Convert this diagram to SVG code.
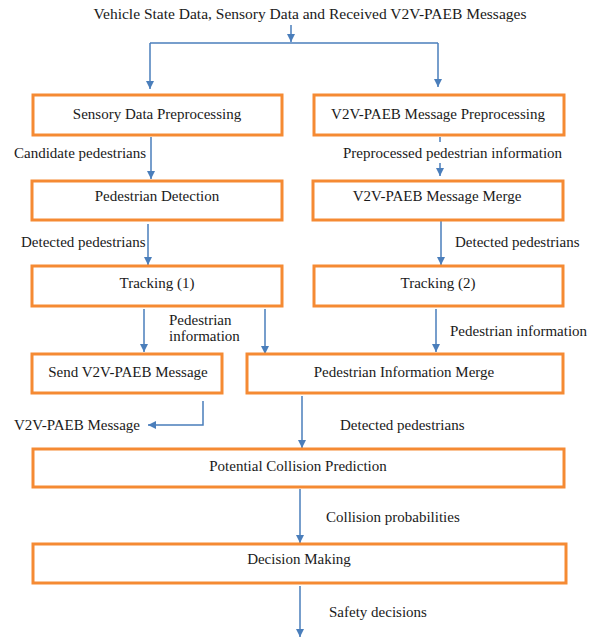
<svg xmlns="http://www.w3.org/2000/svg" width="596" height="642" viewBox="0 0 596 642">
<defs>
<marker id="ah" viewBox="0 0 10 10" refX="10" refY="5" markerWidth="8" markerHeight="8" markerUnits="userSpaceOnUse" orient="auto">
<path d="M0,0 L10,5 L0,10 z" fill="#4A7EBB"/>
</marker>
<style>
.box{fill:#fff;stroke:#F58A33;stroke-width:3}
.t{font-family:'Liberation Serif','Times New Roman','DejaVu Serif',serif;font-size:15px;fill:#1a1a1a}
.c{text-anchor:middle}
.ln{fill:none;stroke:#4A7EBB;stroke-width:1.5}
.ar{marker-end:url(#ah)}
</style>
</defs>
<rect width="596" height="642" fill="#fff"/>
<g id="connectors">
<path class="ln ar" d="M291,25 V42"/>
<path class="ln" d="M150,43 H438"/>
<path class="ln ar" d="M150,43 V89"/>
<path class="ln ar" d="M438,43 V87"/>
<path class="ln ar" d="M151,137 V179"/>
<path class="ln" d="M440,137 V142"/>
<path class="ln ar" d="M440,163 V176"/>
<path class="ln ar" d="M148,224 V265"/>
<path class="ln ar" d="M441,221 V265"/>
<path class="ln ar" d="M144,309 V352"/>
<path class="ln ar" d="M265,309 V354"/>
<path class="ln ar" d="M436,309 V352"/>
<path class="ln ar" d="M203,401 V425 H148"/>
<path class="ln ar" d="M302,396 V448"/>
<path class="ln ar" d="M300,489 V543"/>
<path class="ln ar" d="M300,586 V637"/>
</g>
<g id="labels">
<text class="t c" x="310" y="19" style="font-size:15.5px">Vehicle State Data, Sensory Data and Received V2V-PAEB Messages</text>
<text class="t" x="14" y="158">Candidate pedestrians</text>
<text class="t" x="343" y="158">Preprocessed pedestrian information</text>
<text class="t" x="21" y="247">Detected pedestrians</text>
<text class="t" x="455" y="247">Detected pedestrians</text>
<text class="t" x="169" y="325">Pedestrian</text>
<text class="t" x="169" y="341">information</text>
<text class="t" x="450" y="336">Pedestrian information</text>
<text class="t" x="14" y="430">V2V-PAEB Message</text>
<text class="t" x="340" y="430">Detected pedestrians</text>
<text class="t" x="326" y="522">Collision probabilities</text>
<text class="t" x="329" y="617">Safety decisions</text>
</g>
<g id="n1"><rect class="box" x="33" y="95" width="249" height="40"/><text class="t c" x="157" y="119">Sensory Data Preprocessing</text></g>
<g id="n2"><rect class="box" x="314" y="95" width="250" height="40"/><text class="t c" x="438" y="119">V2V-PAEB Message Preprocessing</text></g>
<g id="n3"><rect class="box" x="32" y="181" width="250" height="39"/><text class="t c" x="157" y="201">Pedestrian Detection</text></g>
<g id="n4"><rect class="box" x="313" y="181" width="250" height="39"/><text class="t c" x="437" y="201">V2V-PAEB Message Merge</text></g>
<g id="n5"><rect class="box" x="32" y="266" width="250" height="40"/><text class="t c" x="157" y="288">Tracking (1)</text></g>
<g id="n6"><rect class="box" x="314" y="266" width="249" height="40"/><text class="t c" x="438" y="288">Tracking (2)</text></g>
<g id="n7"><rect class="box" x="32" y="354" width="190" height="39"/><text class="t c" x="128" y="377">Send V2V-PAEB Message</text></g>
<g id="n8"><rect class="box" x="247" y="354" width="316" height="39"/><text class="t c" x="404" y="377">Pedestrian Information Merge</text></g>
<g id="n9"><rect class="box" x="33" y="449" width="531" height="38"/><text class="t c" x="298" y="471">Potential Collision Prediction</text></g>
<g id="n10"><rect class="box" x="33" y="544" width="533" height="39"/><text class="t c" x="299" y="564">Decision Making</text></g>
</svg>
